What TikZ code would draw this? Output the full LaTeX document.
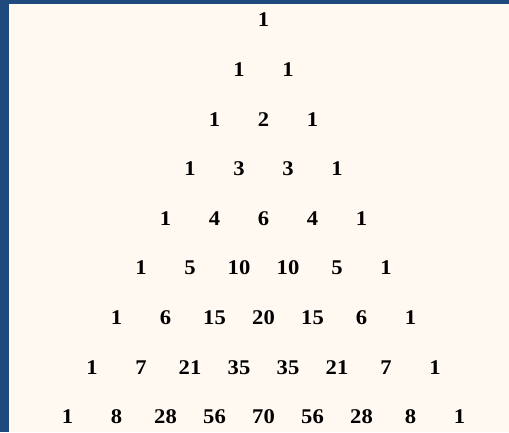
\documentclass[tikz,border=0pt]{standalone}
\usepackage{fontspec}
\setmainfont{Liberation Serif}
\usetikzlibrary{positioning}
\definecolor{frameblue}{RGB}{31,74,126}
\definecolor{paper}{RGB}{255,249,242}
\tikzset{entry/.style={font=\bfseries\fontsize{21}{21}\selectfont, inner sep=0pt,
    text height=14pt, text depth=0pt, xscale=1.08}}

\begin{document}
\begin{tikzpicture}[x=1bp, y=1bp]

        % Page and frame
        \useasboundingbox (0,0) rectangle (509,-432);
        \fill[paper] (0,0) rectangle (509,-432);
        \fill[frameblue] (0,0) rectangle (9,-432);
        \fill[frameblue] (0,0) rectangle (509,-4);

        % Rows of the triangle
        \foreach \r/\vals in {0/{1}, 1/{1,1}, 2/{1,2,1}, 3/{1,3,3,1},
            4/{1,4,6,4,1}, 5/{1,5,10,10,5,1}, 6/{1,6,15,20,15,6,1},
            7/{1,7,21,35,35,21,7,1}, 8/{1,8,28,56,70,56,28,8,1}} {
          \foreach \v [count=\k from 0] in \vals {
            \node[entry] (n-\r-\k) at ({263.5+(\k-\r/2)*49}, {-20-\r*49.6}) {\v};
          }
        }

    \end{tikzpicture}
\end{document}
